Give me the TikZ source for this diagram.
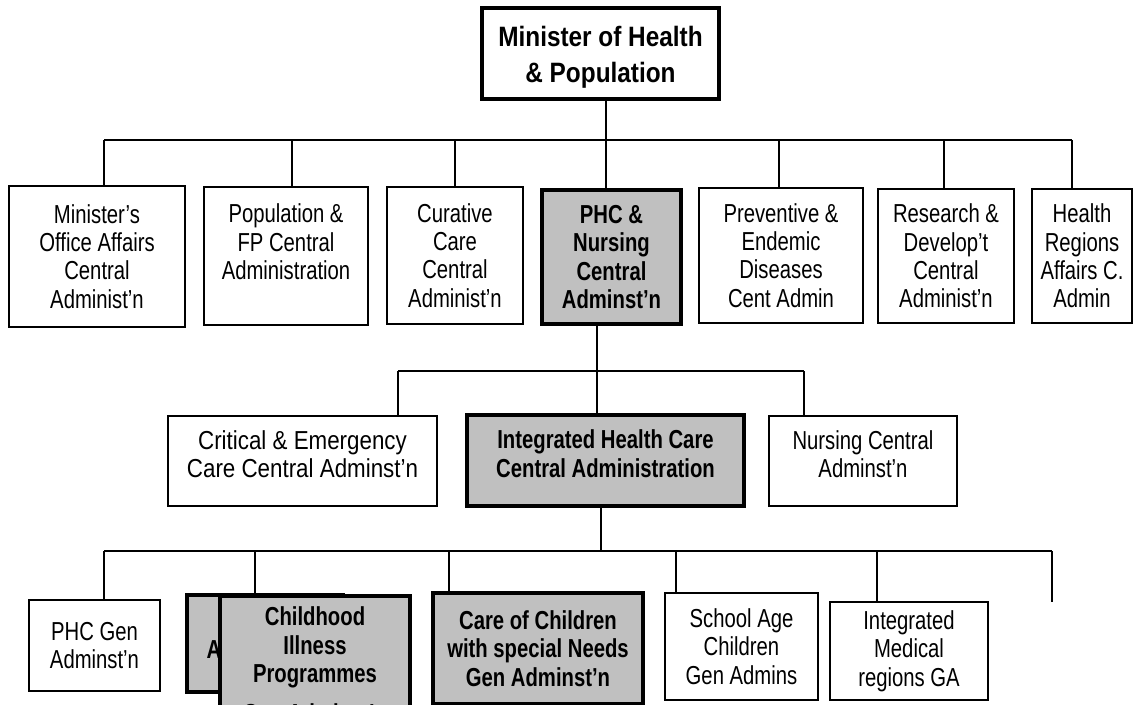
\documentclass[tikz,border=0pt]{standalone}
\usepackage{fontspec}
\setmainfont{Liberation Sans}[FakeStretch=0.78]
\newfontfamily\headfont{Liberation Sans}[FakeStretch=0.87, Ligatures=TeX]
\newfontfamily\wideface{Liberation Sans}[FakeStretch=0.86, Ligatures=TeX]
\definecolor{orggray}{HTML}{C0C0C0}

\begin{document}
\begin{tikzpicture}[x=0.5pt, y=-0.5pt,
    unit/.style={draw, line width=0.75pt, fill=white, inner sep=0pt, align=center,
                 font=\fontsize{13}{14.2}\selectfont},
    lead/.style={unit, line width=1.6pt, fill=orggray, font=\fontsize{13}{14.2}\selectfont\bfseries},
    sz/.style 2 args={minimum width=#1*0.5pt, minimum height=#2*0.5pt},
    link/.style={line width=0.75pt}]
            % Page frame
            \useasboundingbox (0,0) rectangle (1133,705);
            \clip (0,0) rectangle (1133,705);

            % Minister
            \node[unit, line width=1.6pt, sz={237}{91}, font=\headfont\fontsize{14}{18}\selectfont\bfseries]
                (minister) at (600.5,53.5) {\rule{0pt}{14.3pt}Minister of Health\\\& Population};

            % Central administrations
            \node[unit, sz={176}{141}] (office) at (97,256.5) {Minister's\\Office Affairs\\Central\\Administ'n};
            \node[unit, sz={164}{138}] (popfp) at (286,256) {Population \&\\FP Central\\Administration\\\mbox{}};
            \node[unit, sz={136}{137}] (curative) at (455,255.5) {Curative\\Care\\Central\\Administ'n};
            \node[lead, sz={139}{134}] (phc) at (611.5,257) {PHC \&\\Nursing\\Central\\Adminst'n};
            \node[unit, sz={164}{135}] (prevent) at (781,255.5) {Preventive \&\\Endemic\\Diseases\\Cent Admin};
            \node[unit, sz={136}{134}] (research) at (946,256) {Research \&\\Develop't\\Central\\Administ'n};
            \node[unit, sz={100}{134}] (regions) at (1082,256) {Health\\Regions\\Affairs C.\\Admin};

            % Under PHC & Nursing
            \node[unit, sz={269}{90}, font=\wideface\fontsize{13}{14.2}\selectfont]
                (critical) at (302.5,461) {Critical \& Emergency\\Care Central Adminst'n\rule[-7pt]{0pt}{0pt}};
            \node[lead, sz={277}{91}] (ihc) at (605.5,460.5) {Integrated Health Care\\Central Administration\rule[-7pt]{0pt}{0pt}};
            \node[unit, sz={188}{90}] (nursing) at (863,461) {Nursing Central\\Adminst'n\rule[-7pt]{0pt}{0pt}};

            % General administrations
            \node[unit, sz={131}{91}] (phcgen) at (94.5,645.5) {PHC Gen\\Adminst'n};
            \node[lead, sz={156}{97}] (hidden) at (265,643.5) {};
            \node[font=\fontsize{13}{14.2}\selectfont\bfseries, inner sep=0pt] (hiddentxt) at (214,650) {A};
            \node[lead, sz={190}{138}] (childhood) at (315,665) {Childhood\\Illness\\Programmes\\[6pt]Gen Adminst'n};
            \node[lead, sz={210}{111}] (special) at (538,648.5) {Care of Children\\with special Needs\\Gen Adminst'n};
            \node[unit, sz={153}{107}] (school) at (741.5,646.5) {School Age\\Children\\Gen Admins};
            \node[unit, sz={158}{98}] (medical) at (909,651) {Integrated\\Medical\\regions GA};
            \coordinate (openend) at (1052,602);

            % Level 1 links
            \draw[link] (minister.south -| 606,0) -- (606,140);
            \draw[link] (104,140) -- (1072,140);
            \foreach \n/\x in {office/104, popfp/292, curative/455, phc/606, prevent/779, research/944, regions/1072}
                \draw[link] (\x,140) -- (\n.north -| \x,0);

            % Level 2 links
            \draw[link] (phc.south -| 597,0) -- (ihc.north -| 597,0);
            \draw[link] (398,371) -- (804,371);
            \foreach \n/\x in {critical/398, nursing/804}
                \draw[link] (\x,371) -- (\n.north -| \x,0);

            % Level 3 links
            \draw[link] (ihc.south -| 601,0) -- (601,551);
            \draw[link] (104,551) -- (openend |- 0,551);
            \foreach \n/\x in {phcgen/104, childhood/255, special/449, school/676, medical/877}
                \draw[link] (\x,551) -- (\n.north -| \x,0);
            \draw[link] (openend |- 0,551) -- (openend);
        \end{tikzpicture}
\end{document}
